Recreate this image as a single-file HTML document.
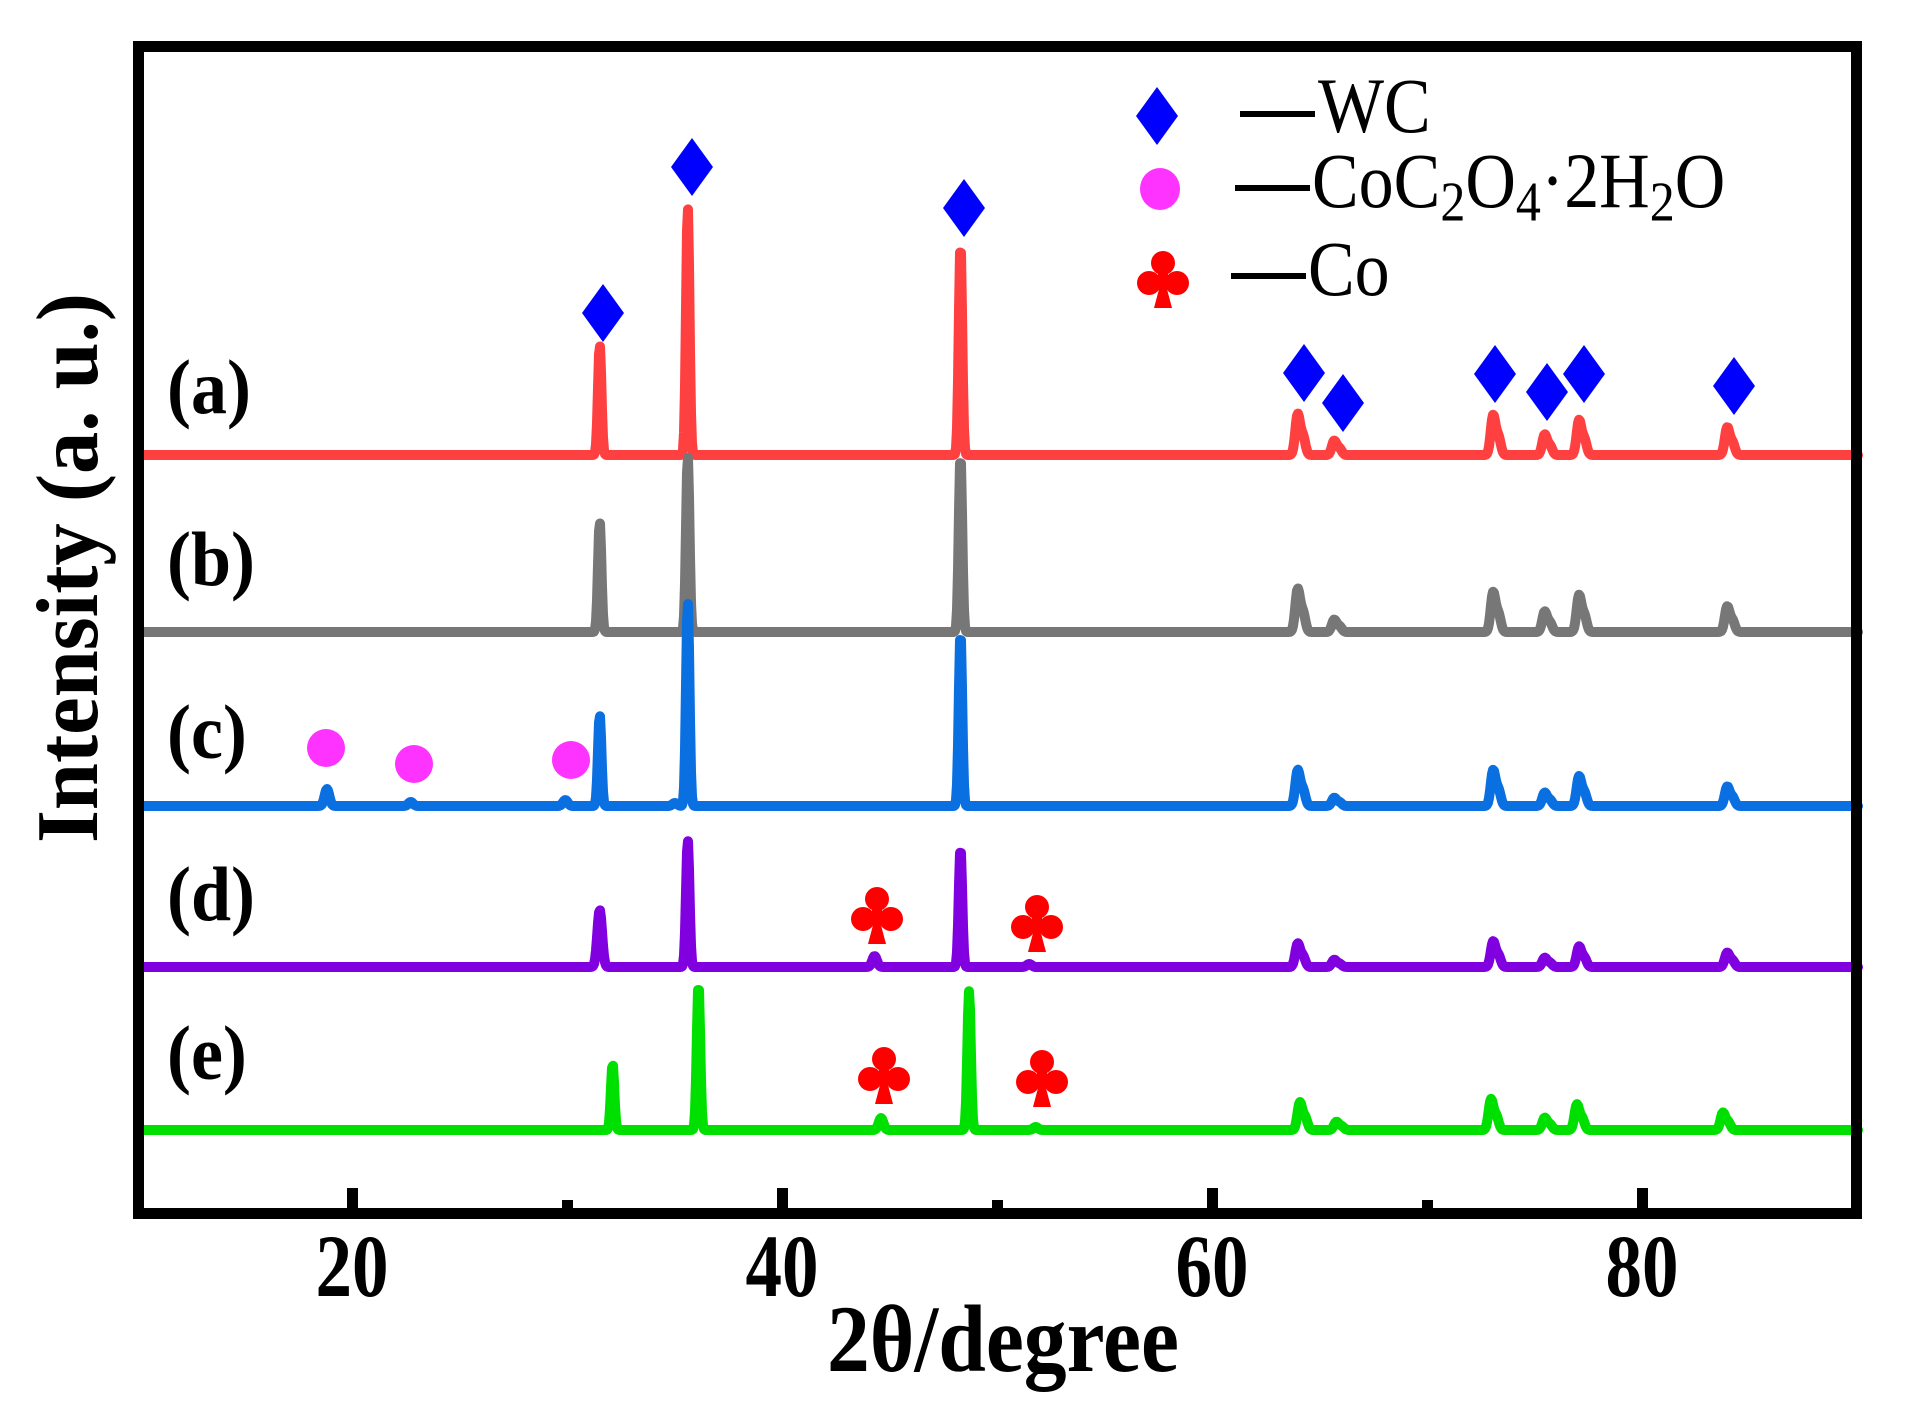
<!DOCTYPE html>
<html><head><meta charset="utf-8"><style>
html,body{margin:0;padding:0;background:#fff;}
svg{display:block;}
text{font-family:"Liberation Serif",serif;}
</style></head><body>
<svg id="s" width="1906" height="1411" viewBox="0 0 1906 1411" xmlns="http://www.w3.org/2000/svg">
<defs>
<g id="dia"><polygon points="0,-29 21,0 0,29 -21,0" fill="#0000ff"/></g>
<g id="club" fill="#ff0000"><circle cx="0" cy="-15" r="12"/><circle cx="-14" cy="5" r="12"/><circle cx="14" cy="5" r="12"/><polygon points="0,-4 -9,30 9,30"/><rect x="-5" y="-8" width="10" height="14"/></g>
</defs>
<g id="series"></g>
<rect x="138.5" y="46.5" width="1718" height="1167" fill="none" stroke="#000" stroke-width="11"/>
<g fill="#000">
<rect x="347" y="1188" width="11" height="20"/><rect x="777" y="1188" width="11" height="20"/><rect x="1207" y="1188" width="11" height="20"/><rect x="1637" y="1188" width="11" height="20"/>
<rect x="562" y="1200" width="11" height="8"/><rect x="992" y="1200" width="11" height="8"/><rect x="1422" y="1200" width="11" height="8"/>
</g>
<g font-weight="bold" font-size="73" text-anchor="middle">
<text transform="translate(352,1296) scale(1,1.22)">20</text>
<text transform="translate(782,1296) scale(1,1.22)">40</text>
<text transform="translate(1212,1296) scale(1,1.22)">60</text>
<text transform="translate(1642,1296) scale(1,1.22)">80</text>
</g>
<text transform="translate(827,1371) scale(1,1.22)" font-weight="bold" font-size="78" textLength="352" lengthAdjust="spacingAndGlyphs">2θ/degree</text>
<text transform="translate(97,843) rotate(-90) scale(1,1.22)" font-weight="bold" font-size="72" textLength="550" lengthAdjust="spacingAndGlyphs">Intensity (a. u.)</text>
<g font-weight="bold" font-size="72">
<text transform="translate(167,413) scale(1,1.08)">(a)</text>
<text transform="translate(167,585) scale(1,1.08)">(b)</text>
<text transform="translate(167,758) scale(1,1.08)">(c)</text>
<text transform="translate(167,920) scale(1,1.08)">(d)</text>
<text transform="translate(167,1079) scale(1,1.08)">(e)</text>
</g>
<use href="#dia" x="603" y="313"/><use href="#dia" x="692" y="167"/><use href="#dia" x="964" y="208"/>
<use href="#dia" x="1304" y="373"/><use href="#dia" x="1343" y="403"/><use href="#dia" x="1495" y="374"/>
<use href="#dia" x="1547" y="392"/><use href="#dia" x="1584" y="374"/><use href="#dia" x="1734" y="386"/>
<g fill="#ff33ff"><circle cx="326" cy="748" r="19"/><circle cx="414" cy="764" r="19"/><circle cx="571" cy="760" r="19"/></g>
<use href="#club" x="877" y="914"/><use href="#club" x="1037" y="922"/><use href="#club" x="884" y="1074"/><use href="#club" x="1042" y="1077"/>
<polygon points="1157,87 1178,116 1157,145 1136,116" fill="#0000ff"/>
<ellipse cx="1160" cy="189" rx="20" ry="21" fill="#ff33ff"/>
<use href="#club" x="1163" y="278"/>
<g fill="#000"><rect x="1240" y="111" width="75" height="6"/><rect x="1235" y="185" width="75" height="6"/><rect x="1231" y="273" width="75" height="6"/></g>
<g font-size="70">
<text transform="translate(1318,132) scale(1,1.12)">WC</text>
<text transform="translate(1312,207) scale(1,1.12)">CoC<tspan font-size="50" dy="12">2</tspan><tspan dy="-12">O</tspan><tspan font-size="50" dy="12">4</tspan><tspan dy="-12">·2H</tspan><tspan font-size="50" dy="12">2</tspan><tspan dy="-12">O</tspan></text>
<text transform="translate(1308,295) scale(1,1.12)">Co</text>
</g>
</svg>
<script>
(function(){
var S=[
["#ff4040",455,[[31.5,110],[35.6,248],[48.3,211],[64.0,40],[65.7,14],[73.1,39],[75.5,20],[77.1,34],[84.0,27]]],
["#777777",632,[[31.5,110],[35.6,176],[48.3,176],[64.0,42],[65.7,12],[73.1,39],[75.5,20],[77.1,36],[84.0,25]]],
["#0a6fe0",806,[[18.8,17],[22.7,4],[29.9,6],[31.5,91],[35.0,3],[35.6,204],[48.3,173],[64.0,35],[65.7,8],[73.1,35],[75.5,13],[77.1,29],[84.0,19]]],
["#8000e0",967,[[31.5,57],[35.6,127],[44.3,11],[48.3,119],[51.5,3],[64.0,23],[65.7,7],[73.1,25],[75.5,9],[77.1,20],[84.0,14]]],
["#00e000",1130,[[32.1,66],[36.1,146],[44.6,12],[48.7,139],[51.8,3],[64.1,27],[65.8,8],[73.0,30],[75.5,12],[77.0,25],[83.8,17]]]
];
var g=document.getElementById("series"),ns="http://www.w3.org/2000/svg";
S.forEach(function(s){
 var d="",first=true;
 for(var x=144;x<=1858;x+=1){
  var deg=10+(x-138)/21.475,y=0;
  s[2].forEach(function(p){var w=(p[1]>60?0.08:0.11);var t=(deg-p[0])/w;y+=p[1]*Math.exp(-0.5*t*t);
    if(p[0]>60){var t2=(deg-p[0]-0.25)/w; y+=0.45*p[1]*Math.exp(-0.5*t2*t2);}});
  d+=(first?"M":"L")+x+","+(s[1]-y).toFixed(1);first=false;
 }
 var pa=document.createElementNS(ns,"path");
 pa.setAttribute("d",d);pa.setAttribute("fill","none");pa.setAttribute("stroke",s[0]);
 pa.setAttribute("stroke-width","10");pa.setAttribute("stroke-linejoin","round");pa.setAttribute("stroke-linecap","round");
 g.appendChild(pa);
});
})();
</script>
</body></html>
